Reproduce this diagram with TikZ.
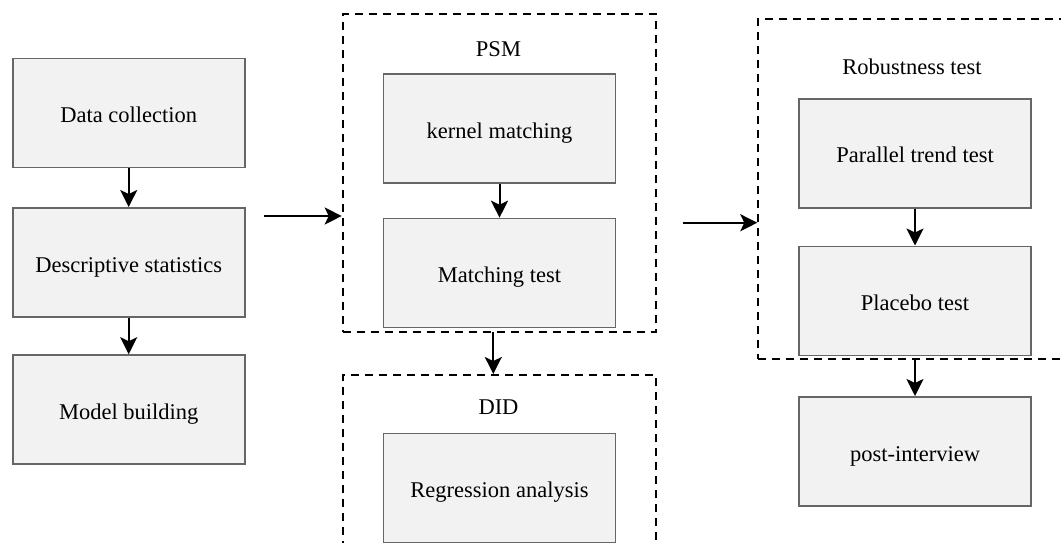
\documentclass[tikz,border=0pt]{standalone}
\usepackage{fontspec}
\setmainfont{Liberation Serif}
\newfontfamily\lserif{Liberation Serif}
\usetikzlibrary{arrows.meta}
\definecolor{boxfill}{HTML}{F2F2F2}
\definecolor{boxline}{HTML}{666666}
\tikzset{
  procbox/.style={draw=boxline, fill=boxfill, line width=1.6pt, minimum width=232pt, minimum height=109pt, inner sep=0pt, font=\lserif\fontsize{22.5}{26}\selectfont, text height=19.5pt, text depth=0pt},
  groupbox/.style={draw=black, line width=2pt, dash pattern=on 8pt off 6pt, inner sep=0pt},
  grouplabel/.style={font=\lserif\fontsize{22.5}{26}\selectfont, inner sep=0pt},
  flow/.style={draw=black, line width=2pt, -{Stealth[length=17pt,width=17pt,inset=4pt]}}
}
\begin{document}
\begin{tikzpicture}[x=1pt,y=-1pt]
\useasboundingbox (0,0) rectangle (1061,542);
\clip (0,0) rectangle (1061,542);
\fill[white] (0,0) rectangle (1061,542);
% group containers
\node[groupbox, minimum width=313pt, minimum height=318pt] (psm) at (499.2,173.3) {};
\node[groupbox, minimum width=313pt, minimum height=230pt] (did) at (499.2,490) {};
\node[groupbox, minimum width=313.4pt, minimum height=340.3pt] (rob) at (915,189.2) {};
\node[grouplabel] (psmlab) at (498.5,49) {PSM};
\node[grouplabel] (didlab) at (498.5,407) {DID};
\node[grouplabel] (roblab) at (912,67) {Robustness test};
% left column
\node[procbox] (dc) at (128.7,113) {Data collection};
\node[procbox] (ds) at (128.7,262.3) {Descriptive statistics};
\node[procbox] (mb) at (128.7,409.5) {Model building};
% middle column
\node[procbox] (km) at (499.5,128.5) {kernel matching};
\node[procbox] (mt) at (499.5,273) {Matching test};
\node[procbox] (ra) at (499.5,488) {Regression analysis};
% right column
\node[procbox] (pt) at (915,153.2) {Parallel trend test};
\node[procbox] (pb) at (915,300.8) {Placebo test};
\node[procbox] (pi) at (915,451.3) {post-interview};
% connectors
\coordinate (a1) at (264,216);
\coordinate (a2) at (682.7,222.7);
\coordinate (a3) at (493.3,332.3);
\draw[flow] (dc.south) -- (ds.north);
\draw[flow] (ds.south) -- (mb.north);
\draw[flow] (a1) -- (a1 -| psm.west);
\draw[flow] (km.south) -- (mt.north);
\draw[flow] (a3) -- (a3 |- did.north);
\draw[flow] (a2) -- (a2 -| rob.west);
\draw[flow] (pt.south) -- (pb.north);
\draw[flow] (rob.south) -- (pi.north);
\end{tikzpicture}
\end{document}
